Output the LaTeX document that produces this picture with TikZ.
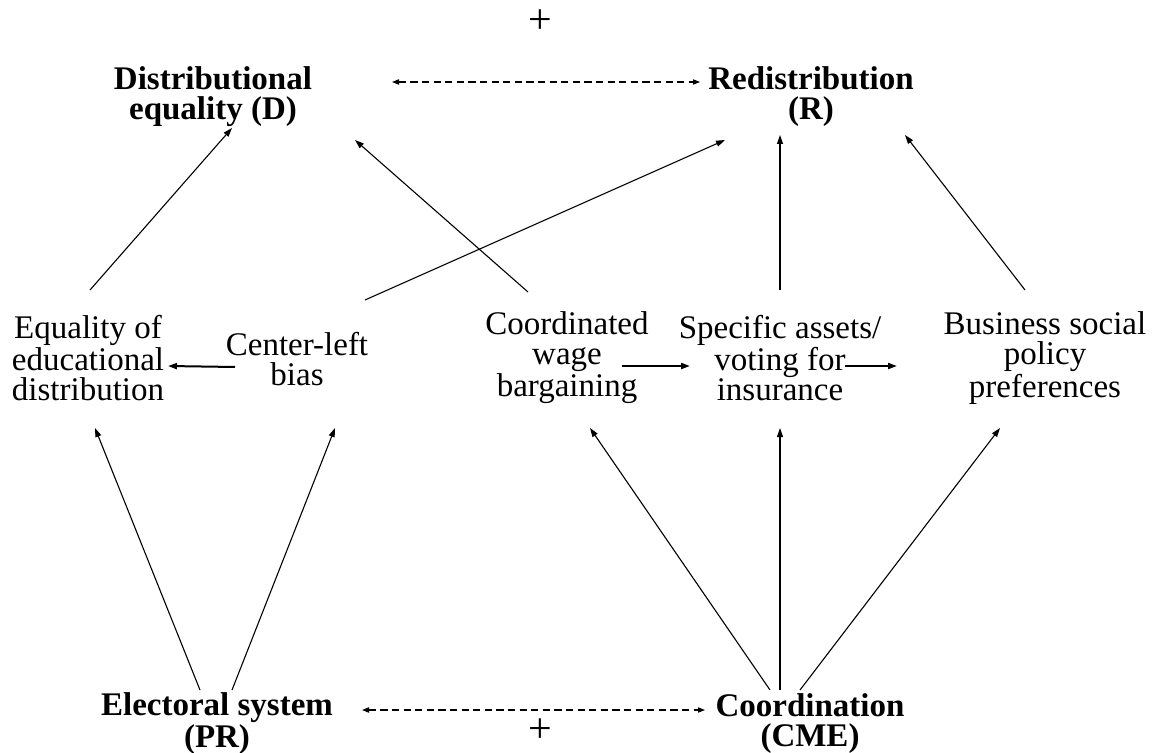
\documentclass[tikz,border=0pt]{standalone}
\usepackage{fontspec}
\setmainfont{Liberation Serif}
\usetikzlibrary{arrows.meta}

\begin{document}
\begin{tikzpicture}[
    x=0.5pt, y=-0.5pt,
    every node/.style={inner sep=0pt, align=center, font=\fontsize{16.5}{15}\selectfont},
    var/.style={font=\fontsize{16.5}{15}\selectfont\bfseries}, % outcome and cause variables
    sign/.style={font=\fontsize{21}{21}\selectfont},
    arr/.style={-{Triangle[length=4.5pt,width=3pt]}, line width=0.55pt},
    flat/.style={-{Triangle[length=4.5pt,width=3pt]}, line width=1pt},
    both/.style={{Triangle[length=3.5pt,width=2.6pt]}-{Triangle[length=3.5pt,width=2.6pt]},
        line width=0.6pt, dash pattern=on 3.6pt off 2.2pt}
]
    \useasboundingbox (0,0) rectangle (1159,753);

    % --- top row: outcomes ---
    \node[var] (D) at (213,97) {Distributional\\equality (D)};
    \node[var] (R) at (811,97) {Redistribution\\(R)};
    \node[sign] (plusT) at (540,22) {+};

    % --- middle row: mechanisms ---
    \node (eq)  at (88,358)   {Equality of\\educational\\distribution};
    \node (cl)  at (297,359)  {Center-left\\bias};
    \node (cwb) at (567,358)  {Coordinated\\wage\\bargaining};
    \node (sp)  at (780,358)  {Specific assets/\\voting for\\insurance};
    \node (bus) at (1045,358) {Business social\\policy\\preferences};

    % --- bottom row: institutions ---
    \node[var] (PR)  at (217,724) {Electoral system\\(PR)};
    \node[var] (CME) at (810,724) {Coordination\\(CME)};
    \node[sign] (plusB) at (540,731) {+};

    % Dashed two-way links
    \draw[both] ([shift={(179,-15)}]D.center) -- ([shift={(-111,-15)}]R.center);
    \draw[both] ([shift={(145,-14)}]PR.center) -- ([shift={(-105,-14)}]CME.center);

    % Middle row into outcomes
    \draw[arr] ([shift={(2,-68)}]eq.center) -- ([shift={(19,31)}]D.center);
    \draw[arr] ([shift={(-39,-66)}]cwb.center) -- ([shift={(142,43)}]D.center);
    \draw[arr] ([shift={(68,-59)}]cl.center) -- ([shift={(-86,43)}]R.center);
    \draw[arr] ([shift={(0,-68)}]sp.center) -- ([shift={(-31,38)}]R.center);
    \draw[arr] ([shift={(-20,-68)}]bus.center) -- ([shift={(94,38)}]R.center);

    % Links within the middle row
    \draw[flat] ([shift={(-62,8)}]cl.center) -- ([shift={(80,8)}]eq.center);
    \draw[flat] ([shift={(55,8)}]cwb.center) -- ([shift={(-90,8)}]sp.center);
    \draw[flat] ([shift={(65,8)}]sp.center) -- ([shift={(-148,8)}]bus.center);

    % Institutions into middle row
    \draw[arr] ([shift={(-17,-34)}]PR.center) -- ([shift={(7,70)}]eq.center);
    \draw[arr] ([shift={(15,-34)}]PR.center) -- ([shift={(38,69)}]cl.center);
    \draw[arr] ([shift={(-40,-34)}]CME.center) -- ([shift={(23,70)}]cwb.center);
    \draw[arr] ([shift={(-30,-34)}]CME.center) -- ([shift={(0,70)}]sp.center);
    \draw[arr] ([shift={(-10,-34)}]CME.center) -- ([shift={(-45,70)}]bus.center);

\end{tikzpicture}
\end{document}
